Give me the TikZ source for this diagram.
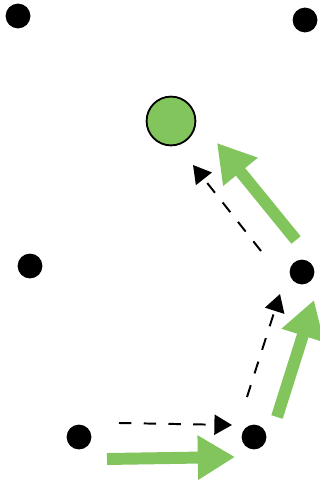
\documentclass[tikz,border=0pt]{standalone}
\usepackage{tikz}
\usetikzlibrary{arrows.meta, calc}

\definecolor{leafgreen}{RGB}{130,197,92}

\begin{document}
\begin{tikzpicture}[
  x=0.025cm, y=-0.025cm,
  dot/.style={
    circle,
    fill=black,
    inner sep=0pt,
    minimum size=0.62cm
  },
  goal/.style={
    circle,
    draw=black,
    line width=1.3pt,
    fill=leafgreen,
    inner sep=0pt,
    minimum size=1.22cm
  },
  dasharrow/.style={-{Triangle[length=0.44cm, width=0.5cm]}, line width=1.4pt, dash pattern=on 8.8pt off 8.8pt},
  greenarrow/.style={-{Triangle[length=0.93cm, width=1.05cm]}, line width=8.5pt, draw=leafgreen, fill=leafgreen}
]
\useasboundingbox (0,0) rectangle (320,480);

% Points
\node[dot] (topleft) at (18,16) {};
\node[dot] (topright) at (305,20) {};
\node[goal] (target) at (171,121) {};
\node[dot] (midleft) at (30,266) {};
\node[dot] (midright) at (302,272) {};
\node[dot] (start) at (79,437) {};
\node[dot] (step) at (254,437) {};

% Dashed arrows
\draw[dasharrow] ($(start)+(40,-14)$) -- ($(step)+(-22,-12)$);
\draw[dasharrow] ($(step)+(-7,-40)$) -- ($(midright)+(-22,22)$);
\draw[dasharrow] ($(midright)+(-41,-21)$) -- ($(target)+(22,44)$);

% Green arrows
\draw[greenarrow] ($(start)+(28,22)$) -- ($(step)+(-19,20)$);
\draw[greenarrow] ($(step)+(23,-20)$) -- ($(midright)+(12,28)$);
\draw[greenarrow] ($(midright)+(-6,-32)$) -- ($(target)+(46,22)$);

\end{tikzpicture}
\end{document}
